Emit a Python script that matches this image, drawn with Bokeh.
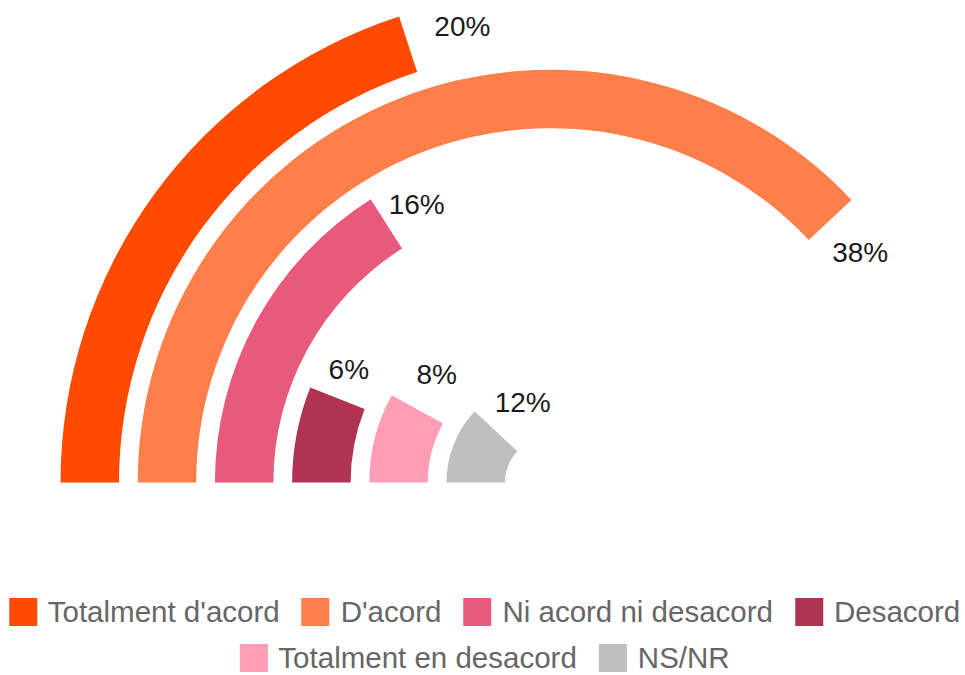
import math
from bokeh.plotting import figure
from bokeh.models import Range1d, Legend, LegendItem
from bokeh.embed import file_html
from bokeh.resources import INLINE
from bokeh.core.properties import value

# ---- data ----
categories = ["Totalment d'acord", "D'acord", "Ni acord ni desacord",
              "Desacord", "Totalment en desacord", "NS/NR"]
percentages = [20, 38, 16, 6, 8, 12]
pct_labels = ["20%", "38%", "16%", "6%", "8%", "12%"]
colors = ["#FF4A00", "#FF7F4A", "#E8597B", "#AE3452", "#FF9DB4", "#BFBFBF"]

# ---- layout / style ----
W, H = 965, 675
CX, CY = 550, 193          # centre of the rings (px units)
OUTER0 = 490               # outer radius of the first ring
STEP = 77.2                # distance between rings
RING_W = 58.5              # ring thickness
LABEL_GAP = [57, 44, 36, 31, 40, 39]   # tangential distance of each label from bar end
FONT = "Liberation Sans"

p = figure(width=W, height=H, output_backend="svg", toolbar_location=None,
           x_range=Range1d(0, W), y_range=Range1d(0, H), min_border=0)
p.axis.visible = False
p.grid.visible = False
p.outline_line_color = None
p.background_fill_color = "white"
p.border_fill_color = "white"

outer = [OUTER0 - STEP * i for i in range(len(categories))]
inner = [o - RING_W for o in outer]
start = [180 - 3.6 * v for v in percentages]
end = [180] * len(categories)

renderers = []
for i in range(len(categories)):
    r = p.annular_wedge(x=CX, y=CY, inner_radius=inner[i], outer_radius=outer[i],
                        start_angle=start[i], end_angle=end[i],
                        start_angle_units="deg", end_angle_units="deg",
                        direction="anticlock", fill_color=colors[i], line_color=None)
    renderers.append(r)

# labels, placed just past the end of each bar along the ring
lx, ly = [], []
for i, v in enumerate(percentages):
    th = math.radians(180 - 3.6 * v)
    rm = (outer[i] + inner[i]) / 2
    d = LABEL_GAP[i]
    lx.append(CX + rm * math.cos(th) + d * math.sin(th))
    ly.append(CY + rm * math.sin(th) - d * math.cos(th))
p.text(x=lx, y=ly, text=pct_labels, text_align="center", text_baseline="middle",
       text_font=value(FONT), text_font_size="28px", text_color="#1a1a1a")

# legend: two centred rows
def make_legend(idx, margin):
    items = [LegendItem(label=categories[i], renderers=[renderers[i]]) for i in idx]
    lg = Legend(items=items, orientation="horizontal", location="bottom_center",
                margin=margin, padding=0, spacing=18, label_standoff=8,
                glyph_width=35, glyph_height=35, label_height=35,
                label_text_font=FONT, label_text_font_size="29.5px",
                label_text_color="#666666", label_text_baseline="middle",
                border_line_color=None, background_fill_alpha=0)
    return lg

p.add_layout(make_legend([0, 1, 2, 3], 46))
p.add_layout(make_legend([4, 5], 0))

open("out.html", "w").write(file_html(p, INLINE))
